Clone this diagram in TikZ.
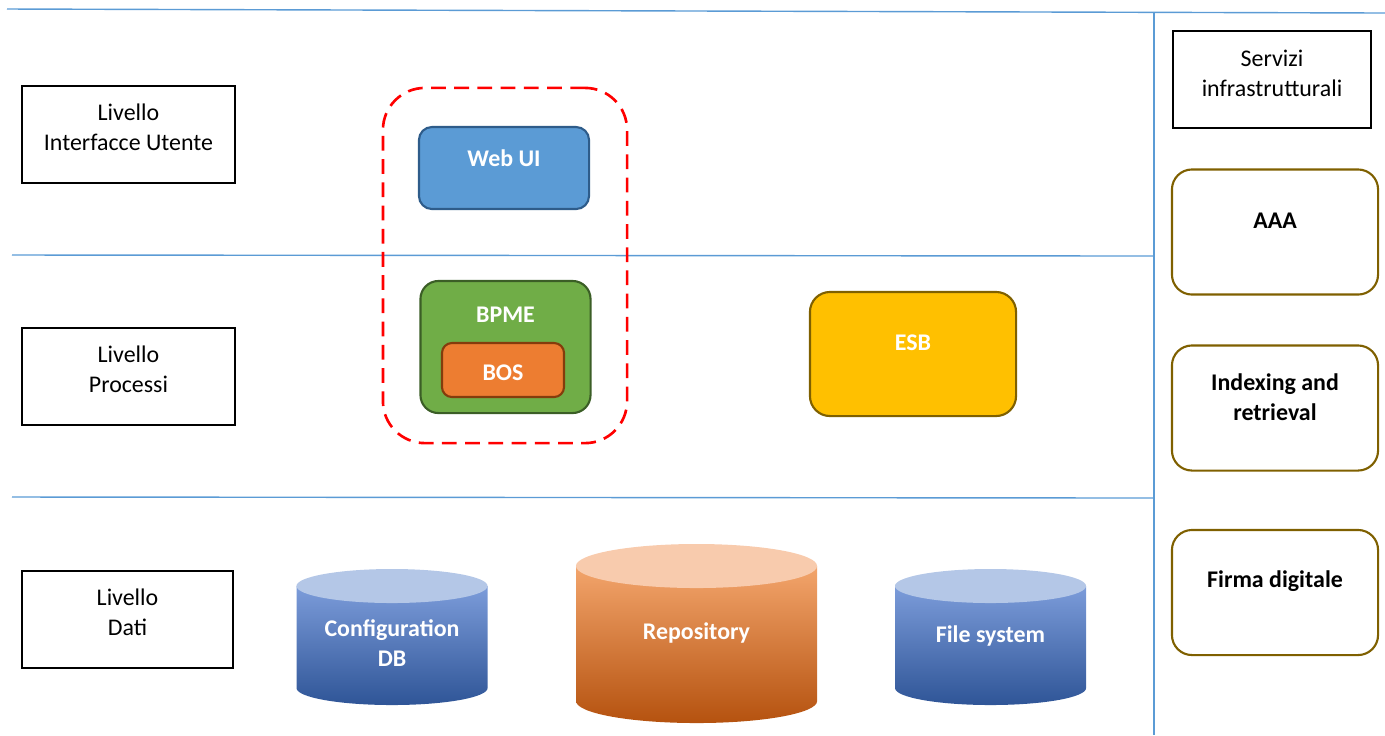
\documentclass[tikz,border=0pt]{standalone}
\usepackage{fontspec}
\setmainfont{Carlito}
\definecolor{lineblue}{HTML}{5B9BD5}
\definecolor{webfill}{HTML}{5B9BD5}
\definecolor{webdraw}{HTML}{2E5C8A}
\definecolor{bpmefill}{HTML}{70AD47}
\definecolor{bpmedraw}{HTML}{3B5E26}
\definecolor{bosfill}{HTML}{ED7D31}
\definecolor{bosdraw}{HTML}{843C0C}
\definecolor{esbfill}{HTML}{FFC000}
\definecolor{olive}{HTML}{7F6000}
\definecolor{cylbluetop}{HTML}{B4C7E7}
\definecolor{cylblue1}{HTML}{7C9CDA}
\definecolor{cylblue2}{HTML}{4472C4}
\definecolor{cylblue3}{HTML}{2F5597}
\definecolor{cylortop}{HTML}{F8CBAD}
\definecolor{cylor1}{HTML}{F3A56C}
\definecolor{cylor2}{HTML}{ED7D31}
\definecolor{cylor3}{HTML}{B5520F}
\begin{document}
\begin{tikzpicture}[x=0.01cm,y=-0.01cm,
  every node/.style={font=\fontsize{6.8}{8.5}\selectfont},
  sep/.style={draw=lineblue,line width=0.4pt},
  levelbox/.style={draw=black,line width=0.4pt,inner sep=0pt},
  txt/.style={align=center,inner sep=0pt},
  wtxt/.style={align=center,inner sep=0pt,text=white,font=\fontsize{6.8}{8.5}\selectfont\bfseries},
  btxt/.style={align=center,inner sep=0pt,text=black,font=\fontsize{6.8}{8.5}\selectfont\bfseries},
  svcbox/.style={draw=olive,line width=0.6pt,rounded corners=0.2cm,inner sep=0pt,minimum width=2.06cm,minimum height=1.25cm},
  colbox/.style={line width=0.6pt,inner sep=0pt}
]
\useasboundingbox (0,0) rectangle (1385,735);
% separator lines
\coordinate (l1a) at (7,9);
\coordinate (l1b) at (1385,13);
\coordinate (l2a) at (12,255);
\coordinate (l2b) at (1154,256);
\coordinate (l3a) at (12,497);
\coordinate (l3b) at (1154,498);
\coordinate (v1a) at (1154,12);
\coordinate (v1b) at (1154,735);
\draw[sep] (l1a) -- (l1b);
\draw[sep] (l2a) -- (l2b);
\draw[sep] (l3a) -- (l3b);
\draw[sep] (v1a) -- (v1b);

% level boxes
\node[levelbox,minimum width=2.13cm,minimum height=0.97cm] (lui) at (128.5,134.5) {};
\node[txt] (luit) at (128.5,127) {Livello\\Interfacce Utente};
\node[levelbox,minimum width=2.13cm,minimum height=0.97cm] (lpr) at (128.5,376.5) {};
\node[txt] (lprt) at (128.5,369) {Livello\\Processi};
\node[levelbox,minimum width=2.11cm,minimum height=0.97cm] (lda) at (127.5,619.5) {};
\node[txt] (ldat) at (127.5,612) {Livello\\Dati};

% services
\node[levelbox,minimum width=1.98cm,minimum height=0.97cm] (srv) at (1272,79.5) {};
\node[txt] (srvt) at (1272,73.5) {Servizi\\infrastrutturali};
\node[svcbox] (aaa) at (1275,232) {};
\node[btxt] (aaat) at (1275,221) {AAA};
\node[svcbox] (idx) at (1275,408) {};
\node[btxt] (idxt) at (1275,397) {Indexing and\\retrieval};
\node[svcbox] (firma) at (1275,592.5) {};
\node[btxt] (firmat) at (1275,581) {Firma digitale};

% dashed group
\node[draw=red,line width=0.75pt,dash pattern=on 4.2pt off 2.4pt,rounded corners=0.42cm,minimum width=2.44cm,minimum height=3.55cm,inner sep=0pt] (grp) at (505,265.5) {};

% Web UI
\node[colbox,draw=webdraw,fill=webfill,rounded corners=0.13cm,minimum width=1.70cm,minimum height=0.82cm] (web) at (504,168) {};
\node[wtxt] (webt) at (504,158) {Web UI};
% BPME
\node[colbox,draw=bpmedraw,fill=bpmefill,rounded corners=0.18cm,minimum width=1.70cm,minimum height=1.32cm] (bpme) at (505.5,347) {};
\node[wtxt] (bpmet) at (505.5,315) {BPME};
\node[colbox,draw=bosdraw,fill=bosfill,rounded corners=0.1cm,minimum width=1.22cm,minimum height=0.54cm] (bos) at (503,370) {};
\node[wtxt] (bost) at (503,372.5) {BOS};
% ESB
\node[colbox,draw=olive,fill=esbfill,rounded corners=0.2cm,minimum width=2.06cm,minimum height=1.24cm] (esb) at (913,354) {};
\node[wtxt] (esbt) at (913,343) {ESB};

% cylinders
% Configuration DB
\shade[top color=cylblue1,middle color=cylblue2,bottom color=cylblue3]
  (296.5,586) -- (296.5,688) arc[start angle=180,end angle=360,x radius=0.955cm,y radius=0.17cm] -- (487.5,586) -- cycle;
\fill[cylbluetop] (392,586) ellipse[x radius=0.955cm,y radius=0.17cm];
\node[wtxt] (cfgt) at (392,643) {Configuration\\DB};
% Repository
\shade[top color=cylor1,middle color=cylor2,bottom color=cylor3]
  (576,566) -- (576,701) arc[start angle=180,end angle=360,x radius=1.205cm,y radius=0.22cm] -- (817,566) -- cycle;
\fill[cylortop] (696.5,566) ellipse[x radius=1.205cm,y radius=0.22cm];
\node[wtxt] (repot) at (696.5,633) {Repository};
% File system
\shade[top color=cylblue1,middle color=cylblue2,bottom color=cylblue3]
  (895,586) -- (895,688) arc[start angle=180,end angle=360,x radius=0.955cm,y radius=0.17cm] -- (1086,586) -- cycle;
\fill[cylbluetop] (990.5,586) ellipse[x radius=0.955cm,y radius=0.17cm];
\node[wtxt] (fst) at (990.5,636) {File system};
\end{tikzpicture}
\end{document}
